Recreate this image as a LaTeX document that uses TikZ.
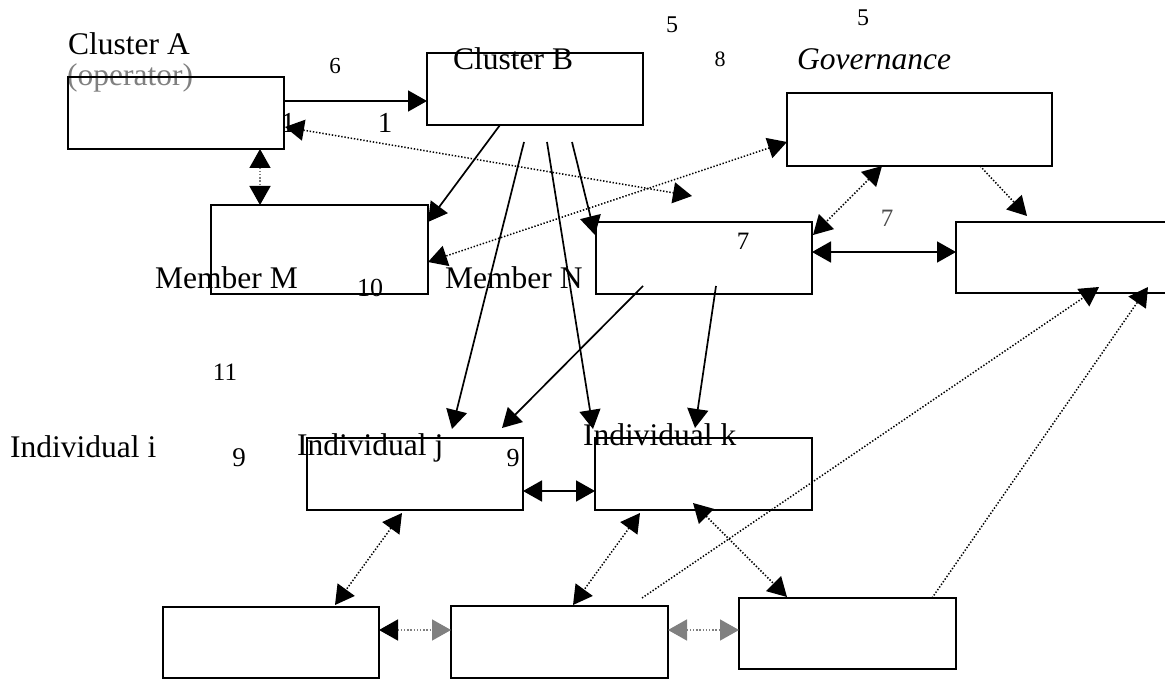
\documentclass[tikz,border=0pt]{standalone}
\usepackage{fontspec}
\setmainfont{Liberation Serif}
\usetikzlibrary{arrows.meta,calc}
\tikzset{
  box/.style={draw, line width=1.8pt, minimum width=216pt, minimum height=72pt, anchor=north west, inner sep=0pt, outer sep=0pt},
  lbl/.style={inner sep=0pt, anchor=base west, font=\fontsize{31.5}{31.5}\selectfont},
  num/.style={inner sep=0pt, anchor=base, font=\fontsize{#1}{#1}\selectfont},
  conn/.style={line width=1.7pt, >={Triangle[length=19pt,width=21pt]}},
  dots/.style={line width=1.5pt, >={Triangle[length=19pt,width=21pt]}, dash pattern=on 1.4pt off 1.8pt},
}
\begin{document}
\begin{tikzpicture}[x=1pt,y=-1pt]
\useasboundingbox (0,0) rectangle (1165,679);
% texts
\node[lbl] (tA) at (68,55) {Cluster A};
\node[lbl, text=gray] (tOp) at (67,86) {(operator)};
\node[num=23] (n6) at (335,74) {6};
\node[num=29] (n1a) at (288,133) {1};
\node[num=29] (n1b) at (385,133) {1};
\node[lbl] (tB) at (453,70) {Cluster B};
\node[num=24] (n5a) at (672,33) {5};
\node[num=22] (n8) at (720,67) {8};
\node[num=24] (n5b) at (863,26) {5};
\node[lbl, font=\fontsize{31.5}{31.5}\selectfont\itshape] (tG) at (797,70) {Governance};
\node[num=25, text=black!70] (n7a) at (887,227) {7};
\node[num=25] (n7b) at (743,250) {7};
\node[lbl] (tM) at (155,288) {Member M};
\node[num=26] (n10) at (370,297) {10};
\node[lbl] (tN) at (445,288) {Member N};
\node[num=25] (n11) at (225,380) {11};
\node[lbl] (tI) at (10,457) {Individual i};
\node[num=27] (n9a) at (239,466) {9};
\node[lbl] (tJ) at (297,455) {Individual j};
\node[num=26] (n9b) at (513,466) {9};
\node[lbl] (tK) at (583,445) {Individual k};
% boxes
\node[box] (A) at (68,77) {};
\node[box] (B) at (427,53) {};
\node[box, minimum width=265pt, minimum height=73pt] (G) at (787,93) {};
\node[box, minimum width=212pt, minimum height=71pt] (R) at (956,222) {};
\node[box, minimum width=217pt, minimum height=89pt] (M) at (211,205) {};
\node[box] (N) at (596,222) {};
\node[box] (J) at (307,438) {};
\node[box, minimum width=217pt] (K) at (595,438) {};
\node[box, minimum height=71pt] (P) at (163,607) {};
\node[box, minimum width=217pt] (Q) at (451,606) {};
\node[box, minimum width=217pt, minimum height=71pt] (S) at (739,598) {};
% free ends
\coordinate (c1) at (692,196);
\coordinate (b1) at (524,142);
\coordinate (b2) at (547,142);
\coordinate (b3) at (572,142);
\coordinate (m1) at (643,286);
\coordinate (m2) at (716,286);
% connectors
\draw[conn,->] ($(A.north east)+(0,24)$) -- ($(B.north west)+(0,48)$);
\draw[dots,<->] ($(A.north east)+(1,50)$) -- (c1);
\draw[dots,draw=gray,{Triangle[length=19pt,width=21pt,color=black]}-{Triangle[length=19pt,width=21pt,color=black]}] ($(A.south west)+(192,0)$) -- ($(M.north west)+(49,0)$);
\draw[conn,->] ($(B.south west)+(73,0)$) -- ($(M.north east)+(0,17)$);
\draw[dots,<->] ($(G.north west)+(0,49)$) -- ($(M.north east)+(0,57)$);
\draw[conn,->] (b1) -- ($(J.north west)+(145,-9)$);
\draw[conn,->] (b2) -- ($(K.north west)+(-2,-9)$);
\draw[conn,->] (b3) -- ($(N.north west)+(-1,13)$);
\draw[conn,->] (m1) -- ($(J.north east)+(-21,-10)$);
\draw[conn,->] (m2) -- ($(K.north west)+(100,-10)$);
\draw[conn,<->] ($(N.north east)+(0,30)$) -- ($(R.north west)+(0,30)$);
\draw[dots,<->] ($(G.south west)+(95,0)$) -- ($(N.north east)+(1,13)$);
\draw[dots,->] ($(G.south west)+(193,0)$) -- ($(R.north west)+(71,-6)$);
\draw[conn,<->] ($(J.north east)+(0,53)$) -- ($(K.north west)+(0,53)$);
\draw[dots,<->] ($(J.south west)+(95,3)$) -- ($(P.north west)+(172,-2)$);
\draw[dots,<->] ($(K.south west)+(45,3)$) -- ($(Q.north west)+(122,-1)$);
\draw[dots,<->] ($(K.south west)+(98,-7)$) -- ($(S.north west)+(48,-1)$);
\draw[dots,->] ($(Q.north west)+(191,-8)$) -- ($(R.south west)+(143,-6)$);
\draw[dots,->] ($(S.north west)+(193,0)$) -- ($(R.south west)+(192,-6)$);
\draw[dots,draw=gray,{Triangle[length=19pt,width=21pt,color=black]}-{Triangle[length=19pt,width=21pt,color=gray]}] ($(P.north east)+(0,23)$) -- ($(Q.north west)+(0,24)$);
\draw[dots,draw=gray,{Triangle[length=19pt,width=21pt,color=gray]}-{Triangle[length=19pt,width=21pt,color=gray]}] ($(Q.north east)+(0,24)$) -- ($(S.north west)+(0,32)$);
\end{tikzpicture}
\end{document}
